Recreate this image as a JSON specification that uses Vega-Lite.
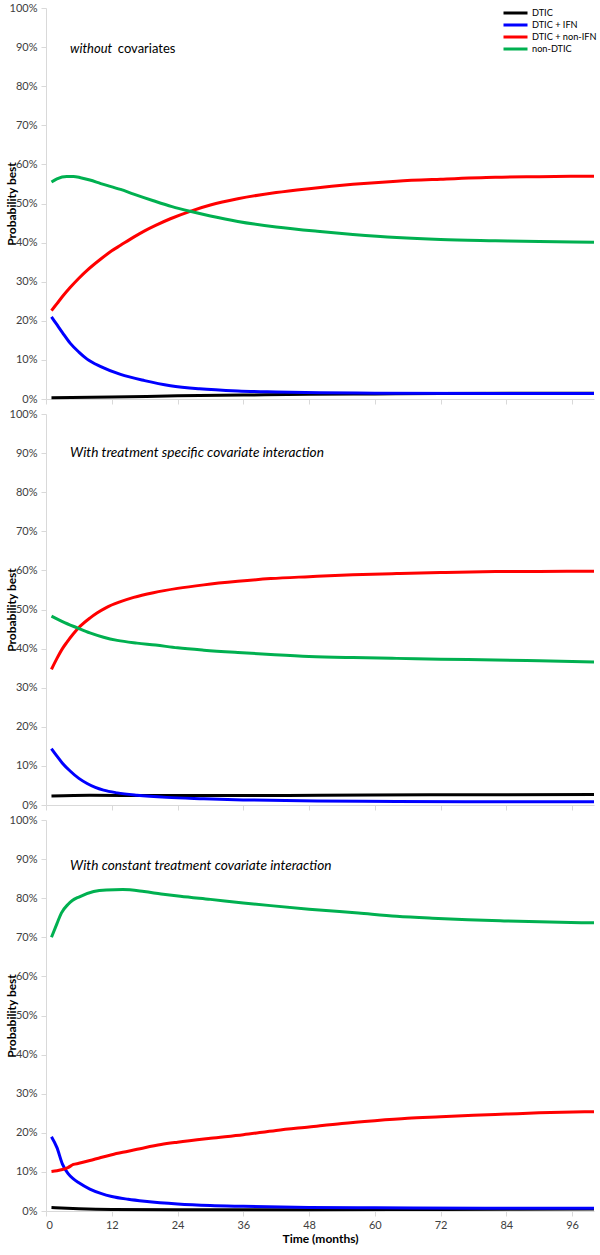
{
  "$schema": "https://vega.github.io/schema/vega-lite/v6.json",
  "padding": {"top": 2, "left": 5, "right": 0, "bottom": 4},
  "bounds": "flush",
  "spacing": 15,
  "config": {
    "font": "Lato",
    "view": {"stroke": null},
    "axis": {"grid": false, "domainColor": "#d9d9d9", "domainWidth": 1, "tickColor": "#d9d9d9", "tickSize": 5, "labelColor": "#404040", "labelFontSize": 11, "labelFont": "Lato", "labelOverlap": false, "labelBound": false, "labelPadding": 4, "titleFont": "Lato", "titleFontSize": 12, "titleFontWeight": "bold", "titleColor": "#000000"},
    "axisY": {"titlePadding": -9, "labelOverlap": false}
  },
  "datasets": {
    "curves": [
      {"panel":1,"series":"DTIC","month":1,"p":0.35},{"panel":1,"series":"DTIC","month":12,"p":0.5},{"panel":1,"series":"DTIC","month":24,"p":0.8},{"panel":1,"series":"DTIC","month":36,"p":1.0},{"panel":1,"series":"DTIC","month":48,"p":1.2},{"panel":1,"series":"DTIC","month":60,"p":1.3},{"panel":1,"series":"DTIC","month":72,"p":1.4},{"panel":1,"series":"DTIC","month":100,"p":1.5},
      {"panel":1,"series":"DTIC + IFN","month":1,"p":21},{"panel":1,"series":"DTIC + IFN","month":2,"p":19},{"panel":1,"series":"DTIC + IFN","month":3,"p":17},{"panel":1,"series":"DTIC + IFN","month":4.4,"p":14.3},{"panel":1,"series":"DTIC + IFN","month":6,"p":12},{"panel":1,"series":"DTIC + IFN","month":7.5,"p":10.2},{"panel":1,"series":"DTIC + IFN","month":10,"p":8.3},{"panel":1,"series":"DTIC + IFN","month":13.6,"p":6.3},{"panel":1,"series":"DTIC + IFN","month":18,"p":4.7},{"panel":1,"series":"DTIC + IFN","month":22.7,"p":3.4},{"panel":1,"series":"DTIC + IFN","month":28,"p":2.6},{"panel":1,"series":"DTIC + IFN","month":35,"p":2.05},{"panel":1,"series":"DTIC + IFN","month":42,"p":1.8},{"panel":1,"series":"DTIC + IFN","month":50,"p":1.6},{"panel":1,"series":"DTIC + IFN","month":60,"p":1.5},{"panel":1,"series":"DTIC + IFN","month":100,"p":1.4},
      {"panel":1,"series":"DTIC + non-IFN","month":1,"p":22.6},{"panel":1,"series":"DTIC + non-IFN","month":2,"p":24.4},{"panel":1,"series":"DTIC + non-IFN","month":3,"p":26.2},{"panel":1,"series":"DTIC + non-IFN","month":4.4,"p":28.5},{"panel":1,"series":"DTIC + non-IFN","month":6,"p":30.9},{"panel":1,"series":"DTIC + non-IFN","month":7.5,"p":32.9},{"panel":1,"series":"DTIC + non-IFN","month":10,"p":35.8},{"panel":1,"series":"DTIC + non-IFN","month":12,"p":37.9},{"panel":1,"series":"DTIC + non-IFN","month":13.6,"p":39.3},{"panel":1,"series":"DTIC + non-IFN","month":16,"p":41.4},{"panel":1,"series":"DTIC + non-IFN","month":18,"p":43},{"panel":1,"series":"DTIC + non-IFN","month":20,"p":44.4},{"panel":1,"series":"DTIC + non-IFN","month":22.7,"p":46.1},{"panel":1,"series":"DTIC + non-IFN","month":26.3,"p":48},{"panel":1,"series":"DTIC + non-IFN","month":30,"p":49.6},{"panel":1,"series":"DTIC + non-IFN","month":35,"p":51.2},{"panel":1,"series":"DTIC + non-IFN","month":42,"p":52.8},{"panel":1,"series":"DTIC + non-IFN","month":48,"p":53.8},{"panel":1,"series":"DTIC + non-IFN","month":56,"p":54.9},{"panel":1,"series":"DTIC + non-IFN","month":64,"p":55.7},{"panel":1,"series":"DTIC + non-IFN","month":72,"p":56.2},{"panel":1,"series":"DTIC + non-IFN","month":82,"p":56.7},{"panel":1,"series":"DTIC + non-IFN","month":90,"p":56.85},{"panel":1,"series":"DTIC + non-IFN","month":100,"p":57},
      {"panel":1,"series":"non-DTIC","month":1,"p":55.5},{"panel":1,"series":"non-DTIC","month":2,"p":56.3},{"panel":1,"series":"non-DTIC","month":3.8,"p":56.9},{"panel":1,"series":"non-DTIC","month":5,"p":56.9},{"panel":1,"series":"non-DTIC","month":6.3,"p":56.6},{"panel":1,"series":"non-DTIC","month":8,"p":56},{"panel":1,"series":"non-DTIC","month":10,"p":55.1},{"panel":1,"series":"non-DTIC","month":13.6,"p":53.6},{"panel":1,"series":"non-DTIC","month":16,"p":52.4},{"panel":1,"series":"non-DTIC","month":19.6,"p":50.7},{"panel":1,"series":"non-DTIC","month":23,"p":49.2},{"panel":1,"series":"non-DTIC","month":26.3,"p":48},{"panel":1,"series":"non-DTIC","month":30,"p":46.8},{"panel":1,"series":"non-DTIC","month":35,"p":45.4},{"panel":1,"series":"non-DTIC","month":42,"p":44},{"panel":1,"series":"non-DTIC","month":49.5,"p":42.9},{"panel":1,"series":"non-DTIC","month":56,"p":42.1},{"panel":1,"series":"non-DTIC","month":64,"p":41.3},{"panel":1,"series":"non-DTIC","month":72,"p":40.8},{"panel":1,"series":"non-DTIC","month":82,"p":40.5},{"panel":1,"series":"non-DTIC","month":90,"p":40.3},{"panel":1,"series":"non-DTIC","month":100,"p":40.1},

      {"panel":2,"series":"DTIC","month":1,"p":2.3},{"panel":2,"series":"DTIC","month":8,"p":2.5},{"panel":2,"series":"DTIC","month":20,"p":2.4},{"panel":2,"series":"DTIC","month":36,"p":2.4},{"panel":2,"series":"DTIC","month":50,"p":2.5},{"panel":2,"series":"DTIC","month":70,"p":2.6},{"panel":2,"series":"DTIC","month":100,"p":2.7},
      {"panel":2,"series":"DTIC + IFN","month":1,"p":14.4},{"panel":2,"series":"DTIC + IFN","month":2,"p":12.5},{"panel":2,"series":"DTIC + IFN","month":3,"p":10.7},{"panel":2,"series":"DTIC + IFN","month":4.4,"p":8.7},{"panel":2,"series":"DTIC + IFN","month":6,"p":6.8},{"panel":2,"series":"DTIC + IFN","month":7.5,"p":5.5},{"panel":2,"series":"DTIC + IFN","month":9,"p":4.5},{"panel":2,"series":"DTIC + IFN","month":10.5,"p":3.8},{"panel":2,"series":"DTIC + IFN","month":13,"p":3.1},{"panel":2,"series":"DTIC + IFN","month":16.6,"p":2.5},{"panel":2,"series":"DTIC + IFN","month":22,"p":1.95},{"panel":2,"series":"DTIC + IFN","month":28.8,"p":1.6},{"panel":2,"series":"DTIC + IFN","month":36,"p":1.3},{"panel":2,"series":"DTIC + IFN","month":49.5,"p":1.0},{"panel":2,"series":"DTIC + IFN","month":64,"p":0.9},{"panel":2,"series":"DTIC + IFN","month":80,"p":0.8},{"panel":2,"series":"DTIC + IFN","month":100,"p":0.8},
      {"panel":2,"series":"DTIC + non-IFN","month":1,"p":34.7},{"panel":2,"series":"DTIC + non-IFN","month":2,"p":37.5},{"panel":2,"series":"DTIC + non-IFN","month":3,"p":40},{"panel":2,"series":"DTIC + non-IFN","month":3.8,"p":41.6},{"panel":2,"series":"DTIC + non-IFN","month":5,"p":43.8},{"panel":2,"series":"DTIC + non-IFN","month":6.3,"p":45.8},{"panel":2,"series":"DTIC + non-IFN","month":8,"p":47.8},{"panel":2,"series":"DTIC + non-IFN","month":9.3,"p":49.1},{"panel":2,"series":"DTIC + non-IFN","month":11,"p":50.5},{"panel":2,"series":"DTIC + non-IFN","month":13.6,"p":52},{"panel":2,"series":"DTIC + non-IFN","month":16,"p":53.1},{"panel":2,"series":"DTIC + non-IFN","month":19.6,"p":54.3},{"panel":2,"series":"DTIC + non-IFN","month":24,"p":55.4},{"panel":2,"series":"DTIC + non-IFN","month":28.8,"p":56.3},{"panel":2,"series":"DTIC + non-IFN","month":35,"p":57.2},{"panel":2,"series":"DTIC + non-IFN","month":41,"p":57.9},{"panel":2,"series":"DTIC + non-IFN","month":48,"p":58.4},{"panel":2,"series":"DTIC + non-IFN","month":56,"p":58.9},{"panel":2,"series":"DTIC + non-IFN","month":64,"p":59.2},{"panel":2,"series":"DTIC + non-IFN","month":72,"p":59.45},{"panel":2,"series":"DTIC + non-IFN","month":82,"p":59.7},{"panel":2,"series":"DTIC + non-IFN","month":90,"p":59.75},{"panel":2,"series":"DTIC + non-IFN","month":100,"p":59.8},
      {"panel":2,"series":"non-DTIC","month":1,"p":48.3},{"panel":2,"series":"non-DTIC","month":3,"p":46.9},{"panel":2,"series":"non-DTIC","month":5.7,"p":45.3},{"panel":2,"series":"non-DTIC","month":8,"p":44},{"panel":2,"series":"non-DTIC","month":10.5,"p":42.9},{"panel":2,"series":"non-DTIC","month":13,"p":42.1},{"panel":2,"series":"non-DTIC","month":16.6,"p":41.4},{"panel":2,"series":"non-DTIC","month":20,"p":40.9},{"panel":2,"series":"non-DTIC","month":24,"p":40.2},{"panel":2,"series":"non-DTIC","month":28.8,"p":39.6},{"panel":2,"series":"non-DTIC","month":35,"p":39},{"panel":2,"series":"non-DTIC","month":41,"p":38.5},{"panel":2,"series":"non-DTIC","month":48,"p":38},{"panel":2,"series":"non-DTIC","month":56,"p":37.7},{"panel":2,"series":"non-DTIC","month":64,"p":37.5},{"panel":2,"series":"non-DTIC","month":72,"p":37.3},{"panel":2,"series":"non-DTIC","month":82,"p":37.1},{"panel":2,"series":"non-DTIC","month":90,"p":36.9},{"panel":2,"series":"non-DTIC","month":100,"p":36.6},

      {"panel":3,"series":"DTIC","month":1,"p":0.9},{"panel":3,"series":"DTIC","month":6,"p":0.6},{"panel":3,"series":"DTIC","month":12,"p":0.4},{"panel":3,"series":"DTIC","month":24,"p":0.3},{"panel":3,"series":"DTIC","month":48,"p":0.3},{"panel":3,"series":"DTIC","month":72,"p":0.4},{"panel":3,"series":"DTIC","month":100,"p":0.5},
      {"panel":3,"series":"DTIC + IFN","month":1,"p":19},{"panel":3,"series":"DTIC + IFN","month":2,"p":16.2},{"panel":3,"series":"DTIC + IFN","month":3,"p":12},{"panel":3,"series":"DTIC + IFN","month":4,"p":9.6},{"panel":3,"series":"DTIC + IFN","month":5,"p":8.2},{"panel":3,"series":"DTIC + IFN","month":6,"p":7.2},{"panel":3,"series":"DTIC + IFN","month":8,"p":5.6},{"panel":3,"series":"DTIC + IFN","month":10,"p":4.5},{"panel":3,"series":"DTIC + IFN","month":12,"p":3.7},{"panel":3,"series":"DTIC + IFN","month":15,"p":3},{"panel":3,"series":"DTIC + IFN","month":18,"p":2.5},{"panel":3,"series":"DTIC + IFN","month":24,"p":1.8},{"panel":3,"series":"DTIC + IFN","month":30,"p":1.4},{"panel":3,"series":"DTIC + IFN","month":36,"p":1.2},{"panel":3,"series":"DTIC + IFN","month":48,"p":0.9},{"panel":3,"series":"DTIC + IFN","month":60,"p":0.8},{"panel":3,"series":"DTIC + IFN","month":80,"p":0.7},{"panel":3,"series":"DTIC + IFN","month":100,"p":0.7},
      {"panel":3,"series":"DTIC + non-IFN","month":1,"p":10.1},{"panel":3,"series":"DTIC + non-IFN","month":2,"p":10.3},{"panel":3,"series":"DTIC + non-IFN","month":3,"p":10.6},{"panel":3,"series":"DTIC + non-IFN","month":4,"p":11.1},{"panel":3,"series":"DTIC + non-IFN","month":5,"p":11.9},{"panel":3,"series":"DTIC + non-IFN","month":6,"p":12.2},{"panel":3,"series":"DTIC + non-IFN","month":8,"p":12.9},{"panel":3,"series":"DTIC + non-IFN","month":10,"p":13.7},{"panel":3,"series":"DTIC + non-IFN","month":12,"p":14.4},{"panel":3,"series":"DTIC + non-IFN","month":15,"p":15.3},{"panel":3,"series":"DTIC + non-IFN","month":18,"p":16.2},{"panel":3,"series":"DTIC + non-IFN","month":21,"p":17},{"panel":3,"series":"DTIC + non-IFN","month":24,"p":17.6},{"panel":3,"series":"DTIC + non-IFN","month":30,"p":18.6},{"panel":3,"series":"DTIC + non-IFN","month":36,"p":19.5},{"panel":3,"series":"DTIC + non-IFN","month":42,"p":20.6},{"panel":3,"series":"DTIC + non-IFN","month":48,"p":21.5},{"panel":3,"series":"DTIC + non-IFN","month":54,"p":22.4},{"panel":3,"series":"DTIC + non-IFN","month":60,"p":23.1},{"panel":3,"series":"DTIC + non-IFN","month":66,"p":23.7},{"panel":3,"series":"DTIC + non-IFN","month":72,"p":24.1},{"panel":3,"series":"DTIC + non-IFN","month":78,"p":24.5},{"panel":3,"series":"DTIC + non-IFN","month":84,"p":24.8},{"panel":3,"series":"DTIC + non-IFN","month":90,"p":25.1},{"panel":3,"series":"DTIC + non-IFN","month":100,"p":25.4},
      {"panel":3,"series":"non-DTIC","month":1,"p":70},{"panel":3,"series":"non-DTIC","month":2,"p":73.5},{"panel":3,"series":"non-DTIC","month":2.8,"p":76.2},{"panel":3,"series":"non-DTIC","month":4,"p":78.4},{"panel":3,"series":"non-DTIC","month":4.8,"p":79.4},{"panel":3,"series":"non-DTIC","month":6,"p":80.3},{"panel":3,"series":"non-DTIC","month":8.7,"p":81.7},{"panel":3,"series":"non-DTIC","month":11,"p":82.1},{"panel":3,"series":"non-DTIC","month":14,"p":82.2},{"panel":3,"series":"non-DTIC","month":17.9,"p":81.7},{"panel":3,"series":"non-DTIC","month":21,"p":81.1},{"panel":3,"series":"non-DTIC","month":24.5,"p":80.5},{"panel":3,"series":"non-DTIC","month":30,"p":79.7},{"panel":3,"series":"non-DTIC","month":36,"p":78.8},{"panel":3,"series":"non-DTIC","month":41,"p":78.1},{"panel":3,"series":"non-DTIC","month":48,"p":77.2},{"panel":3,"series":"non-DTIC","month":57,"p":76.2},{"panel":3,"series":"non-DTIC","month":64,"p":75.4},{"panel":3,"series":"non-DTIC","month":70.5,"p":74.9},{"panel":3,"series":"non-DTIC","month":77,"p":74.5},{"panel":3,"series":"non-DTIC","month":83.6,"p":74.2},{"panel":3,"series":"non-DTIC","month":90,"p":73.95},{"panel":3,"series":"non-DTIC","month":100,"p":73.7}
    ],
    "notes": [
      {"panel":1,"month":4.4,"p":89.5,"label":"without","style":"italic"},
      {"panel":1,"month":13.1,"p":89.5,"label":"covariates","style":"normal"},
      {"panel":2,"month":4.4,"p":90,"label":"With treatment specific covariate interaction","style":"italic"},
      {"panel":3,"month":4.4,"p":88.2,"label":"With constant treatment covariate interaction","style":"italic"}
    ]
  },
  "vconcat": [
    {
      "width": 548, "height": 391,
      "layer": [
        {
          "data": {"name": "curves"},
          "transform": [{"filter": "datum.panel == 1"}],
          "mark": {"type": "line", "strokeWidth": 3, "interpolate": "monotone"},
          "encoding": {
            "x": {"field": "month", "type": "quantitative", "scale": {"domain": [0, 100], "nice": false}, "axis": {"values": [0,12,24,36,48,60,72,84,96], "labels": false, "title": null}},
            "y": {"field": "p", "type": "quantitative", "scale": {"domain": [0, 100], "nice": false}, "axis": {"values": [0,10,20,30,40,50,60,70,80,90,100], "tickCount": 11, "labelOverlap": false, "labelExpr": "datum.value + '%'", "title": "Probability best"}},
            "color": {"field": "series", "type": "nominal", "scale": {"domain": ["DTIC", "DTIC + IFN", "DTIC + non-IFN", "non-DTIC"], "range": ["#000000", "#0000ff", "#ff0000", "#00b050"]},
              "legend": {"orient": "none", "legendX": 456, "legendY": -1, "title": null, "symbolType": "stroke", "symbolStrokeWidth": 3, "symbolSize": 576, "clipHeight": 12, "rowPadding": 0, "labelFontSize": 9.2, "labelFont": "Lato", "labelColor": "#000000", "labelOffset": 3}}
          }
        },
        {
          "data": {"name": "notes"},
          "transform": [{"filter": "datum.panel == 1 && datum.style == 'italic'"}],
          "mark": {"type": "text", "align": "left", "baseline": "middle", "fontStyle": "italic", "fontSize": 13, "font": "Lato", "color": "#000000"},
          "encoding": {"x": {"field": "month", "type": "quantitative"}, "y": {"field": "p", "type": "quantitative"}, "text": {"field": "label"}}
        },
        {
          "data": {"name": "notes"},
          "transform": [{"filter": "datum.panel == 1 && datum.style == 'normal'"}],
          "mark": {"type": "text", "align": "left", "baseline": "middle", "fontSize": 13, "font": "Lato", "color": "#000000"},
          "encoding": {"x": {"field": "month", "type": "quantitative"}, "y": {"field": "p", "type": "quantitative"}, "text": {"field": "label"}}
        }
      ]
    },
    {
      "width": 548, "height": 391,
      "layer": [
        {
          "data": {"name": "curves"},
          "transform": [{"filter": "datum.panel == 2"}],
          "mark": {"type": "line", "strokeWidth": 3, "interpolate": "monotone"},
          "encoding": {
            "x": {"field": "month", "type": "quantitative", "scale": {"domain": [0, 100], "nice": false}, "axis": {"values": [0,12,24,36,48,60,72,84,96], "labels": false, "title": null}},
            "y": {"field": "p", "type": "quantitative", "scale": {"domain": [0, 100], "nice": false}, "axis": {"values": [0,10,20,30,40,50,60,70,80,90,100], "tickCount": 11, "labelOverlap": false, "labelExpr": "datum.value + '%'", "title": "Probability best"}},
            "color": {"field": "series", "type": "nominal", "legend": null}
          }
        },
        {
          "data": {"name": "notes"},
          "transform": [{"filter": "datum.panel == 2"}],
          "mark": {"type": "text", "align": "left", "baseline": "middle", "fontStyle": "italic", "fontSize": 13.7, "font": "Lato", "color": "#000000"},
          "encoding": {"x": {"field": "month", "type": "quantitative"}, "y": {"field": "p", "type": "quantitative"}, "text": {"field": "label"}}
        }
      ]
    },
    {
      "width": 548, "height": 391,
      "layer": [
        {
          "data": {"name": "curves"},
          "transform": [{"filter": "datum.panel == 3"}],
          "mark": {"type": "line", "strokeWidth": 3, "interpolate": "monotone"},
          "encoding": {
            "x": {"field": "month", "type": "quantitative", "scale": {"domain": [0, 100], "nice": false}, "axis": {"values": [0,12,24,36,48,60,72,84,96], "title": "Time (months)", "labelPadding": 3, "titlePadding": 3}},
            "y": {"field": "p", "type": "quantitative", "scale": {"domain": [0, 100], "nice": false}, "axis": {"values": [0,10,20,30,40,50,60,70,80,90,100], "tickCount": 11, "labelOverlap": false, "labelExpr": "datum.value + '%'", "title": "Probability best"}},
            "color": {"field": "series", "type": "nominal", "legend": null}
          }
        },
        {
          "data": {"name": "notes"},
          "transform": [{"filter": "datum.panel == 3"}],
          "mark": {"type": "text", "align": "left", "baseline": "middle", "fontStyle": "italic", "fontSize": 13.7, "font": "Lato", "color": "#000000"},
          "encoding": {"x": {"field": "month", "type": "quantitative"}, "y": {"field": "p", "type": "quantitative"}, "text": {"field": "label"}}
        }
      ]
    }
  ]
}
